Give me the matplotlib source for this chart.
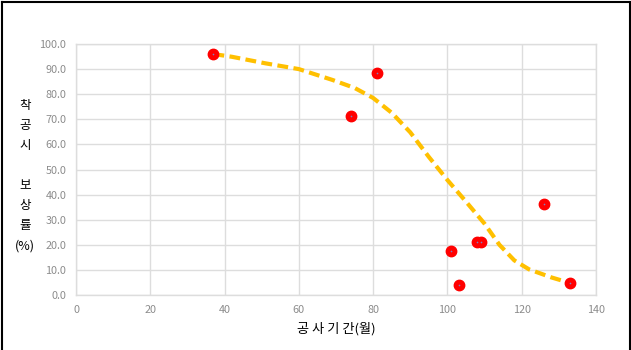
import numpy as np
import matplotlib.pyplot as plt
from matplotlib.lines import Line2D

plt.rcParams['font.family'] = ['Noto Sans CJK KR', 'DejaVu Sans']

# observed points
period = [37, 74, 81, 101, 103, 108, 109, 126, 133]
rate = [96.0, 71.4, 88.4, 17.5, 3.8, 21.0, 21.0, 36.3, 4.8]

# trend curve
trend_x = [37, 42, 51, 60, 69, 75, 80, 85, 90, 95, 100, 105, 110, 114, 118, 122, 128, 133]
trend_y = [96.0, 94.9, 92.3, 90.0, 85.7, 82.5, 78.5, 72.6, 64.8, 55.0, 45.8, 37.2, 28.4, 20.0, 13.8, 10.2, 7.0, 4.8]

xticks = [0, 20, 40, 60, 80, 100, 120, 140]
yticks = [0, 10, 20, 30, 40, 50, 60, 70, 80, 90, 100]

fig = plt.figure(figsize=(6.31, 3.5), dpi=100)
ax = fig.add_axes([76 / 631, 55 / 350, 520 / 631, 251 / 350])

grid_c = '#DDDDDD'
ax.set_xlim(0, 140)
ax.set_ylim(0, 100)
ax.set_xticks(xticks)
ax.set_yticks(yticks)
ax.set_yticklabels(['%.1f' % v for v in yticks])
ax.grid(True, color=grid_c, linewidth=1.0)
ax.set_axisbelow(True)
for s in ax.spines.values():
    s.set_color(grid_c)
    s.set_linewidth(1.0)
ax.tick_params(length=0, labelsize=7.8, labelcolor='#8C8C8C', pad=7)

ax.plot(trend_x, trend_y, color='#FFC000', lw=3, dashes=(2.6, 1.3),
        solid_capstyle='butt', zorder=2)
ax.plot(period, rate, 'o', color='#FF0000', ms=7.5, mec='#FF0000', zorder=3,
        clip_on=False)
ax.plot(period, rate, 'o', color='#8080C0', ms=1.2, mew=0, zorder=4, clip_on=False)

ax.set_xlabel('공 사 기 간(월)', fontsize=9.5, labelpad=5)
fig.text(25 / 631, 1 - 176 / 350, '착\n공\n시\n\n보\n상\n률\n(%)', fontsize=9,
         ha='center', va='center', linespacing=1.7)

# outer frame (left, top, right)
frame = dict(color='black', lw=1.5, transform=fig.transFigure)
fig.add_artist(Line2D([1.5 / 631, 1.5 / 631], [0, 1 - 1.5 / 350], **frame))
fig.add_artist(Line2D([1.5 / 631, 1 - 1.5 / 631], [1 - 1.5 / 350, 1 - 1.5 / 350], **frame))
fig.add_artist(Line2D([1 - 1.5 / 631, 1 - 1.5 / 631], [0, 1 - 1.5 / 350], **frame))

fig.savefig('out.png', dpi=100)
